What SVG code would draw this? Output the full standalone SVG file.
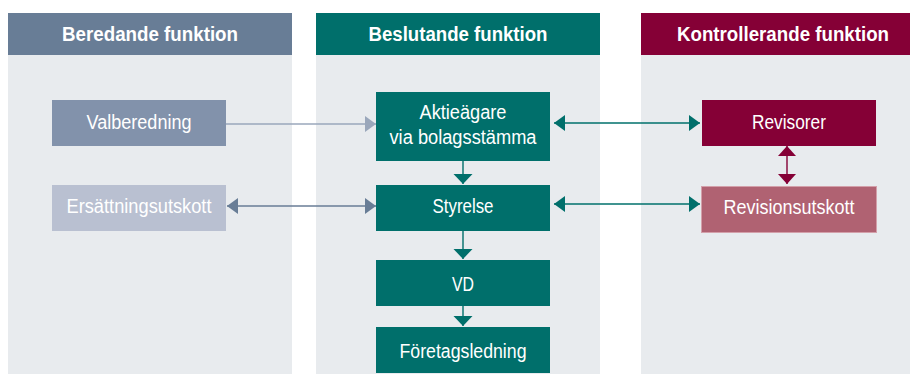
<svg xmlns="http://www.w3.org/2000/svg" width="910" height="374" viewBox="0 0 910 374">
<defs>
<style>
.panel{fill:#e8ebee}
.hdr{font-family:"Liberation Sans",Arial,sans-serif;font-weight:bold;font-size:19.5px;fill:#ffffff;text-anchor:middle}
.lbl{font-family:"Liberation Sans",Arial,sans-serif;font-size:19.5px;fill:#ffffff;text-anchor:middle}
.teal{fill:#006f6b}
.conn{fill:none;stroke-width:1.4}
</style>
<marker id="aLight" markerUnits="userSpaceOnUse" markerWidth="12" markerHeight="18" refX="11" refY="8" orient="auto-start-reverse" viewBox="0 0 12 16"><path d="M0,0 L11,8 L0,16 z" fill="#9aa7bb"/></marker>
<marker id="aBlue" markerUnits="userSpaceOnUse" markerWidth="12" markerHeight="18" refX="11" refY="8" orient="auto-start-reverse" viewBox="0 0 12 16"><path d="M0,0 L11,8 L0,16 z" fill="#687d96"/></marker>
<marker id="aTeal" markerUnits="userSpaceOnUse" markerWidth="12" markerHeight="18" refX="11" refY="8" orient="auto-start-reverse" viewBox="0 0 12 16"><path d="M0,0 L11,8 L0,16 z" fill="#006f6b"/></marker>
<marker id="aTealD" markerUnits="userSpaceOnUse" markerWidth="11" markerHeight="20" refX="10" refY="9.5" orient="auto" viewBox="0 0 11 19"><path d="M0,0 L10,9.5 L0,19 z" fill="#006f6b"/></marker>
<marker id="aRed" markerUnits="userSpaceOnUse" markerWidth="11" markerHeight="20" refX="10" refY="9" orient="auto-start-reverse" viewBox="0 0 11 18"><path d="M0,0 L10,9 L0,18 z" fill="#850036"/></marker>
</defs>

<g id="panels">
<rect class="panel" x="8" y="55" width="284" height="319"/>
<rect class="panel" x="316" y="55" width="284" height="319"/>
<rect class="panel" x="641" y="55" width="269" height="319"/>
</g>

<g id="hdr-beredande">
<rect x="8" y="13" width="284" height="42" fill="#687d96"/>
<text class="hdr" x="150" y="41" textLength="176" lengthAdjust="spacingAndGlyphs">Beredande funktion</text>
</g>
<g id="hdr-beslutande">
<rect x="316" y="13" width="284" height="42" fill="#006f6b"/>
<text class="hdr" x="458" y="41" textLength="179" lengthAdjust="spacingAndGlyphs">Beslutande funktion</text>
</g>
<g id="hdr-kontrollerande">
<rect x="641" y="13" width="269" height="42" fill="#850036"/>
<text class="hdr" x="783" y="41" textLength="212" lengthAdjust="spacingAndGlyphs">Kontrollerande funktion</text>
</g>

<g id="connectors">
<line class="conn" x1="226" y1="124" x2="376" y2="124" stroke="#9aa7bb" marker-end="url(#aLight)"/>
<line class="conn" x1="227" y1="206" x2="376" y2="206" stroke="#687d96" marker-start="url(#aBlue)" marker-end="url(#aBlue)"/>
<line class="conn" x1="554" y1="123" x2="700" y2="123" stroke="#00706b" marker-start="url(#aTeal)" marker-end="url(#aTeal)"/>
<line class="conn" x1="554" y1="204" x2="700" y2="204" stroke="#00706b" marker-start="url(#aTeal)" marker-end="url(#aTeal)"/>
<line class="conn" x1="787" y1="146" x2="787" y2="184" stroke="#850036" marker-start="url(#aRed)" marker-end="url(#aRed)"/>
<line class="conn" x1="463" y1="161" x2="463" y2="184" stroke="#006f6b" marker-end="url(#aTealD)"/>
<line class="conn" x1="463" y1="231" x2="463" y2="259" stroke="#006f6b" marker-end="url(#aTealD)"/>
<line class="conn" x1="463" y1="306" x2="463" y2="326" stroke="#006f6b" marker-end="url(#aTealD)"/>
</g>

<g id="valberedning">
<rect x="52" y="100" width="174" height="46" fill="#8292ab"/>
<text class="lbl" x="139" y="129" textLength="105" lengthAdjust="spacingAndGlyphs">Valberedning</text>
</g>
<g id="ersattningsutskott">
<rect x="52" y="185" width="174" height="46" fill="#b9c0d1"/>
<text class="lbl" x="139" y="213" textLength="145" lengthAdjust="spacingAndGlyphs">Ersättningsutskott</text>
</g>
<g id="aktieagare">
<rect class="teal" x="376" y="92" width="174" height="69"/>
<text class="lbl" x="463" y="119" textLength="87" lengthAdjust="spacingAndGlyphs">Aktieägare</text>
<text class="lbl" x="463" y="144" textLength="147" lengthAdjust="spacingAndGlyphs">via bolagsstämma</text>
</g>
<g id="styrelse">
<rect class="teal" x="376" y="185" width="174" height="46"/>
<text class="lbl" x="463" y="213" textLength="61" lengthAdjust="spacingAndGlyphs">Styrelse</text>
</g>
<g id="vd">
<rect class="teal" x="376" y="260" width="174" height="46"/>
<text class="lbl" x="463" y="291" textLength="22" lengthAdjust="spacingAndGlyphs">VD</text>
</g>
<g id="foretagsledning">
<rect class="teal" x="376" y="327" width="174" height="46"/>
<text class="lbl" x="463" y="358" textLength="127" lengthAdjust="spacingAndGlyphs">Företagsledning</text>
</g>
<g id="revisorer">
<rect x="702" y="100" width="174" height="46" fill="#850036"/>
<text class="lbl" x="789" y="129" textLength="74" lengthAdjust="spacingAndGlyphs">Revisorer</text>
</g>
<g id="revisionsutskott">
<rect x="701.5" y="186.5" width="175" height="46" fill="#b06272" stroke="#d3a0aa" stroke-width="1"/>
<text class="lbl" x="789" y="214" textLength="131" lengthAdjust="spacingAndGlyphs">Revisionsutskott</text>
</g>
</svg>
